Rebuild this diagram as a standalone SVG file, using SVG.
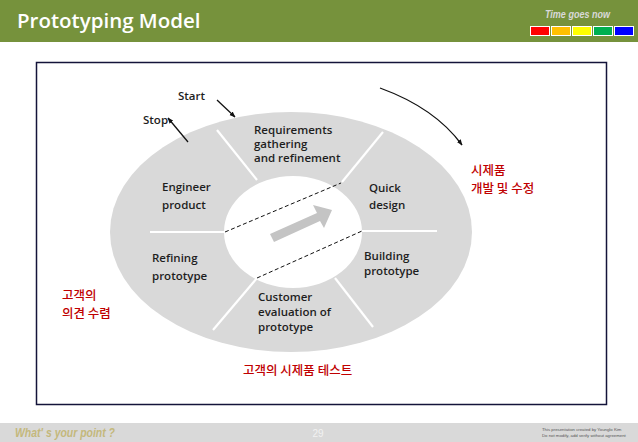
<svg xmlns="http://www.w3.org/2000/svg" width="638" height="442" viewBox="0 0 638 442">
<style>
.lbl{font-family:"Open Sans","Liberation Sans",sans-serif;font-weight:600;font-size:11.5px;fill:#1e1e1e}
.kr{font-family:"Noto Sans CJK KR","Noto Sans",sans-serif;font-size:12.5px;font-weight:500;fill:#c00000}
.sep{stroke:#ffffff;stroke-width:2.2;fill:none}
.dash{stroke:#111;stroke-width:1;stroke-dasharray:4 2.5;fill:none}
.ln{stroke:#111;stroke-width:1.3;fill:none}
</style>
<defs>
<marker id="ah" viewBox="0 0 10 10" refX="9" refY="5" markerWidth="6" markerHeight="6" orient="auto" markerUnits="userSpaceOnUse">
<path d="M0,1 L10,5 L0,9 z" fill="#111"/>
</marker>
</defs>
<rect width="638" height="442" fill="#ffffff"/>
<g id="header">
<rect x="0" y="0" width="638" height="42" fill="#76923c"/>
<text x="17" y="28" font-family="Open Sans,Liberation Sans,sans-serif" font-weight="600" font-size="20.5" fill="#ffffff">Prototyping Model</text>
<text x="545" y="18" font-family="Liberation Sans,sans-serif" font-weight="bold" font-style="italic" font-size="10.5" fill="#d9d9d9" textLength="65" lengthAdjust="spacingAndGlyphs">Time goes now</text>
<rect x="530.5" y="26.5" width="19" height="9" fill="#ff0000" stroke="#fff" stroke-width="1"/>
<rect x="551.5" y="26.5" width="19" height="9" fill="#ffc000" stroke="#fff" stroke-width="1"/>
<rect x="572.5" y="26.5" width="19" height="9" fill="#ffff00" stroke="#fff" stroke-width="1"/>
<rect x="593.5" y="26.5" width="19" height="9" fill="#00b050" stroke="#fff" stroke-width="1"/>
<rect x="614.5" y="26.5" width="19" height="9" fill="#0000ff" stroke="#fff" stroke-width="1"/>
</g>
<rect id="frame" x="36.5" y="62.5" width="570" height="342" fill="none" stroke="#14143a" stroke-width="1.5"/>
<g id="cycle">
<ellipse cx="291" cy="232" rx="181" ry="120" fill="#d9d9d9"/>
<ellipse cx="293" cy="232" rx="69" ry="56" fill="#ffffff"/>
<line class="sep" x1="217" y1="130" x2="257" y2="180"/>
<line class="sep" x1="383" y1="132" x2="342" y2="182"/>
<line class="sep" x1="150" y1="232" x2="225" y2="232"/>
<line class="sep" x1="362" y1="231" x2="437" y2="231"/>
<line class="sep" x1="257" y1="278" x2="213" y2="330"/>
<line class="sep" x1="335" y1="278" x2="373" y2="327"/>
<path d="M270,234 L317,213 L313,205 L332,210 L324,228 L320,221 L274,242 z" fill="#c4c4c4"/>
</g>
<g id="connectors">
<line class="dash" x1="225" y1="232" x2="341" y2="183"/>
<line class="dash" x1="257" y1="278" x2="362" y2="231"/>
<line class="ln" x1="217" y1="100" x2="235" y2="117" marker-end="url(#ah)"/>
<line class="ln" x1="188" y1="142" x2="168" y2="118" marker-end="url(#ah)"/>
<path class="ln" d="M380,88 Q435,108 462,145" marker-end="url(#ah)"/>
</g>
<g id="n-start"><text class="lbl" x="178" y="100">Start</text></g>
<g id="n-stop"><text class="lbl" x="143" y="124">Stop</text></g>
<g id="n-req"><text class="lbl" x="254" y="134">Requirements</text><text class="lbl" x="254" y="148">gathering</text><text class="lbl" x="254" y="162">and refinement</text></g>
<g id="n-quick"><text class="lbl" x="369" y="192">Quick</text><text class="lbl" x="369" y="209">design</text></g>
<g id="n-build"><text class="lbl" x="364" y="260">Building</text><text class="lbl" x="364" y="275">prototype</text></g>
<g id="n-cust"><text class="lbl" x="258" y="301">Customer</text><text class="lbl" x="258" y="316">evaluation of</text><text class="lbl" x="258" y="331">prototype</text></g>
<g id="n-refine"><text class="lbl" x="152" y="262">Refining</text><text class="lbl" x="152" y="280">prototype</text></g>
<g id="n-eng"><text class="lbl" x="162" y="191">Engineer</text><text class="lbl" x="162" y="209">product</text></g>
<g id="k-dev"><text class="kr" x="471" y="175">시제품</text><text class="kr" x="471" y="193">개발 및 수정</text></g>
<g id="k-opinion"><text class="kr" x="62" y="300">고객의</text><text class="kr" x="62" y="318">의견 수렴</text></g>
<g id="k-test"><text class="kr" x="243" y="375">고객의 시제품 테스트</text></g>
<g id="footer">
<rect x="0" y="423" width="638" height="19" fill="#d9d9d9"/>
<text x="15" y="437" font-family="Liberation Sans,sans-serif" font-weight="bold" font-style="italic" font-size="12" fill="#c4b87c" textLength="100" lengthAdjust="spacingAndGlyphs">What' s your point ?</text>
<text x="318" y="437" text-anchor="middle" font-family="Liberation Sans,sans-serif" font-size="10" fill="#f2f2f2">29</text>
<text x="542" y="431" font-family="Liberation Sans,sans-serif" font-size="4.3" fill="#555">This presentation created by  Younglo Kim</text>
<text x="542" y="437" font-family="Liberation Sans,sans-serif" font-size="4.3" fill="#555">Do not modify, add verify without agreement</text>
</g>
</svg>
